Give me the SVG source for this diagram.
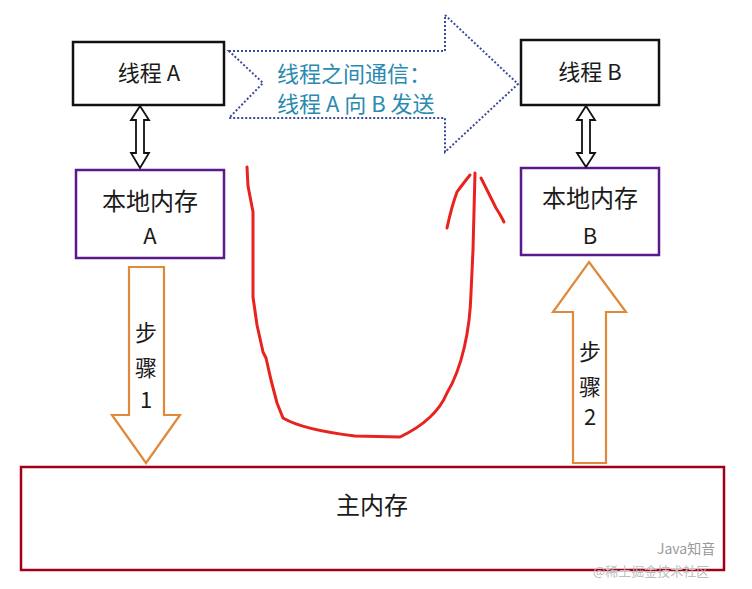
<svg xmlns="http://www.w3.org/2000/svg" width="752" height="589" viewBox="0 0 752 589">
<style>
.t{font-family:"Noto Sans CJK SC","Liberation Sans",sans-serif;fill:#1a1a1a}
.thread{fill:#fff;stroke:#111;stroke-width:2.5}
.local{fill:#fff;stroke:#5a1a8a;stroke-width:2.5}
.dbl{fill:#fff;stroke:#111;stroke-width:1.8}
.step{fill:#fff;stroke:#e0893a;stroke-width:2.2}
.red{fill:none;stroke:#e8231e;stroke-width:3;stroke-linecap:round;stroke-linejoin:round}
.comm{font-family:"Noto Sans CJK SC","Liberation Sans",sans-serif;fill:#2a8bb0;font-size:22px}
</style>
<rect width="752" height="589" fill="#fff"/>
<g id="main-memory">
<rect x="21" y="467" width="703" height="103" fill="#fff" stroke="#a0001a" stroke-width="2.5"/>
<text class="t" x="372" y="514" font-size="24" text-anchor="middle">主内存</text>
</g>
<g id="comm-arrow">
<path d="M229,51 L445,51 L445,15 L518,84 L445,152 L445,118 L229,118 L263,83 Z" fill="#fff" stroke="#3a4a9a" stroke-width="2" stroke-dasharray="2,2"/>
<text class="comm" x="277" y="82">线程之间通信：</text>
<text class="comm" x="277" y="112">线程 A 向 B 发送</text>
</g>
<g id="thread-a">
<rect class="thread" x="73" y="42" width="151" height="63"/>
<text class="t" x="149" y="81" font-size="22" text-anchor="middle">线程 A</text>
</g>
<g id="thread-b">
<rect class="thread" x="521" y="40" width="138" height="65"/>
<text class="t" x="590" y="80" font-size="22" text-anchor="middle">线程 B</text>
</g>
<g id="local-a">
<rect class="local" x="76" y="170" width="148" height="88"/>
<text class="t" x="150" y="210" font-size="24" text-anchor="middle">本地内存</text>
<text class="t" x="150" y="244" font-size="22" text-anchor="middle">A</text>
</g>
<g id="local-b">
<rect class="local" x="521" y="168" width="138" height="87"/>
<text class="t" x="590" y="207" font-size="24" text-anchor="middle">本地内存</text>
<text class="t" x="590" y="244" font-size="22" text-anchor="middle">B</text>
</g>
<g id="connectors">
<path class="dbl" d="M140,106 L149,120 L144,120 L144,153 L149,153 L140,168 L131,153 L136,153 L136,120 L131,120 Z"/>
<path class="dbl" d="M586,106 L595,120 L590,120 L590,153 L595,153 L586,167 L577,153 L582,153 L582,120 L577,120 Z"/>
<g id="step1">
<path class="step" d="M129,267 L164,267 L164,415 L180,415 L146,463 L112,415 L129,415 Z"/>
<text class="t" x="146" y="341" font-size="22" text-anchor="middle">步</text>
<text class="t" x="146" y="376" font-size="22" text-anchor="middle">骤</text>
<text class="t" x="146" y="408" font-size="22" text-anchor="middle">1</text>
</g>
<g id="step2">
<path class="step" d="M589,262 L626,312 L606,312 L606,463 L573,463 L573,312 L553,312 Z"/>
<text class="t" x="590" y="360" font-size="22" text-anchor="middle">步</text>
<text class="t" x="590" y="395" font-size="22" text-anchor="middle">骤</text>
<text class="t" x="590" y="425" font-size="22" text-anchor="middle">2</text>
</g>
<path class="red" d="M247,167 L248,186 L253,212 L253,297 L257,325 L263,352 L266,358 L271,380 L277,403 L283,418 C300,428 330,433 355,436 L400,437 C425,425 440,410 447,393 C462,368 470,330 471,293 L473,250 L475,173"/>
<path class="red" d="M447,228 C450,214 454,200 457,192 C462,185 466,180 470,175"/>
<path class="red" d="M481,178 C486,188 492,200 496,208 C500,214 502,218 504,222"/>
</g>
<text x="657" y="554" font-size="14" fill="#9a9a9a" font-family="Noto Sans CJK SC,Liberation Sans,sans-serif">Java知音</text>
<text x="593" y="576" font-size="13" fill="#bdbdbd" font-family="Noto Sans CJK SC,Liberation Sans,sans-serif">@稀土掘金技术社区</text>
</svg>
